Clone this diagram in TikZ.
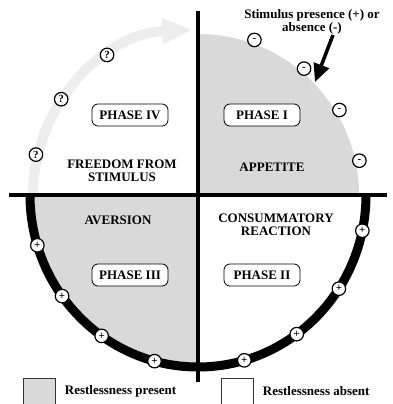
\documentclass[tikz,border=0pt]{standalone}
\usepackage{fontspec}
\setmainfont{Liberation Serif}
\usetikzlibrary{arrows.meta,positioning}
\definecolor{restgrey}{gray}{0.85}
\definecolor{pathgrey}{gray}{0.93}
\begin{document}
\begin{tikzpicture}[x=1pt,y=1pt,font=\fontsize{13}{13}\selectfont\bfseries]
    \tikzstyle{phase}=[draw=black,fill=white,rounded corners=6pt,minimum width=76pt,minimum height=22pt,inner sep=0pt,line width=0.8pt]
    \tikzstyle{signdot}=[circle,draw=black,fill=white,minimum size=13.5pt,inner sep=0pt,line width=1.2pt,font=\fontsize{11}{11}\selectfont\bfseries]
    \tikzstyle{quadtext}=[align=center,inner sep=1pt]
    \tikzstyle{keybox}=[draw=black!80,minimum width=32pt,minimum height=26pt,inner sep=0pt,line width=0.8pt]
    \useasboundingbox (-198,-209) rectangle (195,195);

    % restlessness present
    \fill[restgrey] (0,0) -- (161,0) arc[start angle=0,end angle=90,radius=161] -- cycle;
    \fill[restgrey] (0,0) -- (-168,0) arc[start angle=180,end angle=270,x radius=168,y radius=172] -- cycle;

    % free period and stimulus rim
    \draw[pathgrey,line width=10pt,-{Triangle[length=30pt,width=24pt]}] (-165,0) arc[start angle=180,end angle=92,radius=165];
    \draw[line width=9pt] (-168,0) arc[start angle=180,end angle=360,x radius=168,y radius=172];

    \draw[line width=3.5pt] (-189,0) -- (189,0);
    \draw[line width=3.5pt] (0,184) -- (0,-187);

    \foreach \a in {123,145,166}
        \node[signdot] (q-\a) at (\a:167) {?};
    \foreach \a in {12,31,50,70}
        \node[signdot] (m-\a) at (\a:165) {-};
    \foreach \a in {197,216,235,255,286,306,327,348}
        \node[signdot] (p-\a) at ({168*cos(\a)},{172*sin(\a)}) {+};

    \node[phase] (phase-iv) at (-68,80) {PHASE IV};
    \node[phase] (phase-i) at (64,80) {PHASE I};
    \node[phase] (phase-iii) at (-68,-80) {PHASE III};
    \node[phase] (phase-ii) at (64,-80) {PHASE II};

    \node[quadtext] (freedom) at (-76,24) {FREEDOM FROM\\STIMULUS};
    \node[quadtext] (appetite) at (74,28) {APPETITE};
    \node[quadtext] (aversion) at (-80,-25) {AVERSION};
    \node[quadtext] (consummatory) at (78,-29.5) {CONSUMMATORY\\REACTION};

    \node[quadtext] (stimulus) at (114,173.5) {Stimulus presence (+) or\\absence (-)};
    \coordinate (stim-tail) at (135,160);
    \coordinate (stim-tip) at (117,113);
    \draw[line width=3.5pt,-{Triangle[length=18pt,width=16pt]}] (stim-tail) -- (stim-tip);

    % key
    \node[keybox,fill=restgrey] (key-present) at (-159,-196) {};
    \node[right=6pt of key-present] (key-present-text) {Restlessness present};
    \node[keybox,fill=white] (key-absent) at (39,-196) {};
    \node[right=6pt of key-absent] (key-absent-text) {Restlessness absent};
\end{tikzpicture}
\end{document}
